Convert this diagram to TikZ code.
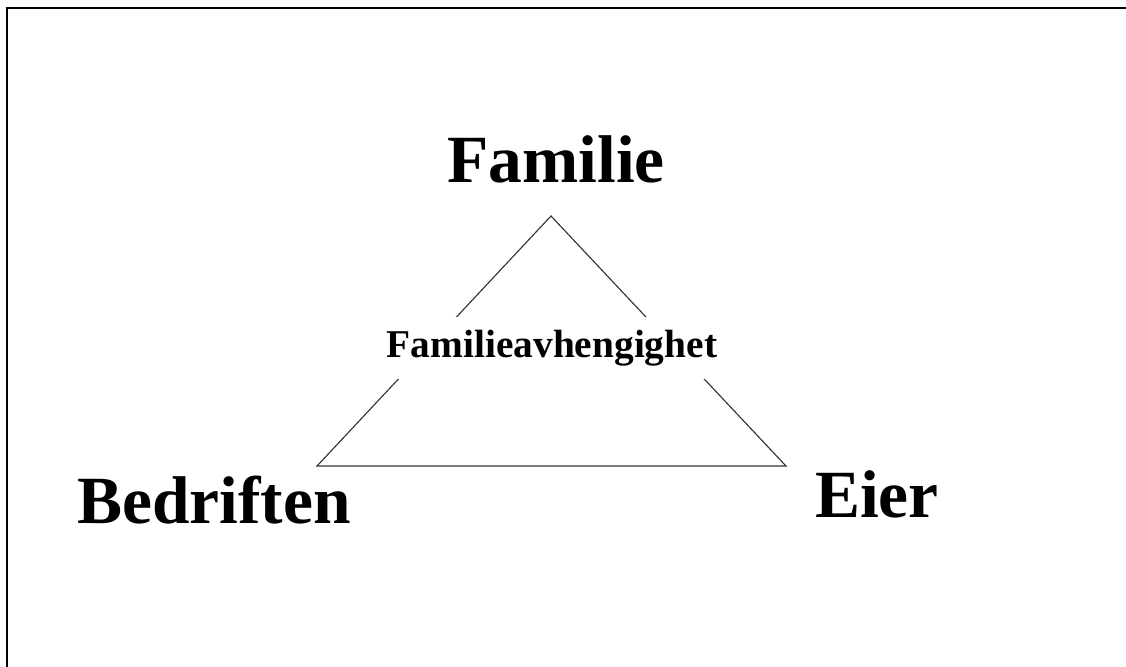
\documentclass[tikz,border=0pt]{standalone}
\usepackage{fontspec}
\setmainfont{Liberation Serif}
\begin{document}
\begin{tikzpicture}[x=0.025cm,y=-0.025cm,
    big/.style={font=\fontsize{48}{50}\selectfont\bfseries,anchor=base,inner sep=0pt},
    side/.style={draw=black!80,line width=0.8pt}]
  \useasboundingbox (0,0) rectangle (1126,666);
  \draw[line width=1.1pt] (7,680) -- (7,8) -- (1140,8);
  % corners of the triangle
  \coordinate (top) at (551,216);
  \coordinate (left) at (317,466);
  \coordinate (right) at (786,466);
  \node[big] (familie) at (556,182) {Familie};
  \node[big] (bedriften) at (214,523) {Bedriften};
  \node[big] (eier) at (877,517) {Eier};
  \draw[side] (top) -- (left) -- (right) -- cycle;
  \node[fill=white,inner sep=9pt,font=\fontsize{28}{30}\selectfont\bfseries] (avh) at (552,348) {Familieavhengighet};
\end{tikzpicture}
\end{document}
